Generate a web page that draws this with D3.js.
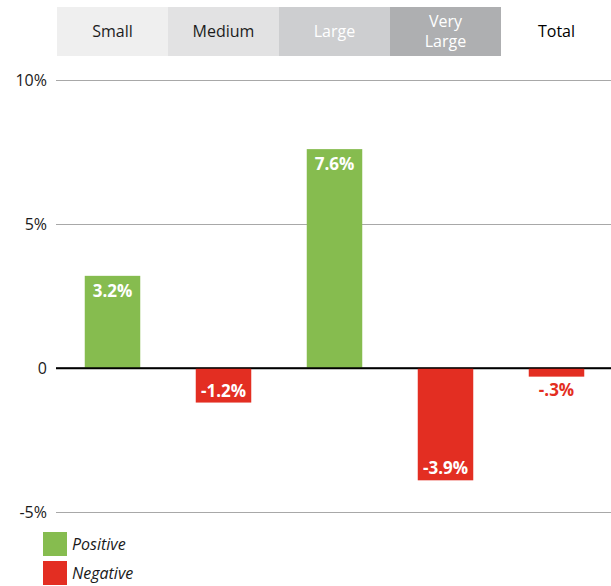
<!DOCTYPE html>
<html>
<head>
<meta charset="utf-8">
<script src="https://cdn.jsdelivr.net/npm/d3@7"></script>
<style>
  html, body { margin: 0; padding: 0; background: #fff; }
  svg { display: block; font-family: "Open Sans", sans-serif; }
</style>
</head>
<body>
<svg id="chart" width="611" height="586"></svg>
<script>
const categories = ["Small", "Medium", "Large", "Very Large", "Total"];
const values = [3.2, -1.2, 7.6, -3.9, -0.3];
const yTicks = [-5, 0, 5, 10];
const legendItems = ["Positive", "Negative"];

const W = 611, H = 586;
const svg = d3.select("#chart");

const x = d3.scaleBand().domain(categories).range([57, 612]).paddingInner(0.5).paddingOuter(0.25);
const y = d3.scaleLinear().domain([-5, 10]).range([512, 80]);
const step = x.step();

const GREEN = "#86bc4f", RED = "#e32e22";
const headerFill = ["#efefef", "#e2e2e3", "#cdced0", "#aeafb1", "#ffffff"];
const headerText = ["#1c1c1c", "#1c1c1c", "#ffffff", "#ffffff", "#000000"];

// header
const hdr = svg.append("g");
categories.forEach((c, i) => {
  const x0 = x(c) + x.bandwidth() / 2 - step / 2;
  hdr.append("rect").attr("x", x0).attr("y", 7).attr("width", step).attr("height", 49).attr("fill", headerFill[i]);
  const cx = x(c) + x.bandwidth() / 2;
  const words = c.split(" ");
  if (words.length === 1) {
    hdr.append("text").attr("x", cx).attr("y", 37).attr("text-anchor", "middle")
      .attr("font-size", 16).attr("fill", headerText[i]).text(c);
  } else {
    words.forEach((w, k) => {
      hdr.append("text").attr("x", cx).attr("y", 27 + k * 20).attr("text-anchor", "middle")
        .attr("font-size", 16).attr("fill", headerText[i]).text(w);
    });
  }
});

// axis + grid
const axis = d3.axisLeft(y).tickValues(yTicks).tickSize(-(W - 56)).tickPadding(9)
  .tickFormat(d => d === 0 ? "0" : d + "%");
const ag = svg.append("g").attr("transform", "translate(56,0)").call(axis);
ag.select(".domain").remove();
ag.selectAll(".tick line").attr("stroke", d => d === 0 ? "#000" : "#a8a8a8").attr("stroke-width", d => d === 0 ? 1.3 : 1.2);
ag.selectAll(".tick text").attr("font-size", 16).attr("fill", "#1a1a1a").attr("font-family", "Open Sans, sans-serif");

// bars
const fmt = v => (v < 0 ? "-" : "") + Math.abs(v).toFixed(1).replace(/^0\./, ".") + "%";
const bars = svg.append("g");
categories.forEach((c, i) => {
  const v = values[i];
  const col = v >= 0 ? GREEN : RED;
  const top = y(Math.max(0, v)), bot = y(Math.min(0, v));
  bars.append("rect").attr("x", x(c)).attr("y", top).attr("width", x.bandwidth()).attr("height", bot - top).attr("fill", col);
  const cx = x(c) + x.bandwidth() / 2;
  const hgt = bot - top;
  let ty, tc = "#fff";
  if (hgt < 24) { ty = v >= 0 ? top - 6 : bot + 19; tc = col; }
  else if (v >= 0) ty = top + 21;
  else ty = bot - 6;
  bars.append("text").attr("x", cx).attr("y", ty).attr("text-anchor", "middle")
    .attr("font-size", 17).attr("font-weight", "bold").attr("fill", tc).text(fmt(v));
});

// redraw zero line on top
svg.append("line").attr("x1", 56).attr("x2", W).attr("y1", y(0)).attr("y2", y(0)).attr("stroke", "#000").attr("stroke-width", 1.3);

// legend
const lg = svg.append("g");
legendItems.forEach((t, i) => {
  lg.append("rect").attr("x", 43).attr("y", 532 + i * 29).attr("width", 24).attr("height", 24).attr("fill", i === 0 ? GREEN : RED);
  lg.append("text").attr("x", 72).attr("y", 550 + i * 29).attr("font-size", 16).attr("font-style", "italic").attr("fill", "#1a1a1a").text(t);
});
</script>
</body>
</html>
